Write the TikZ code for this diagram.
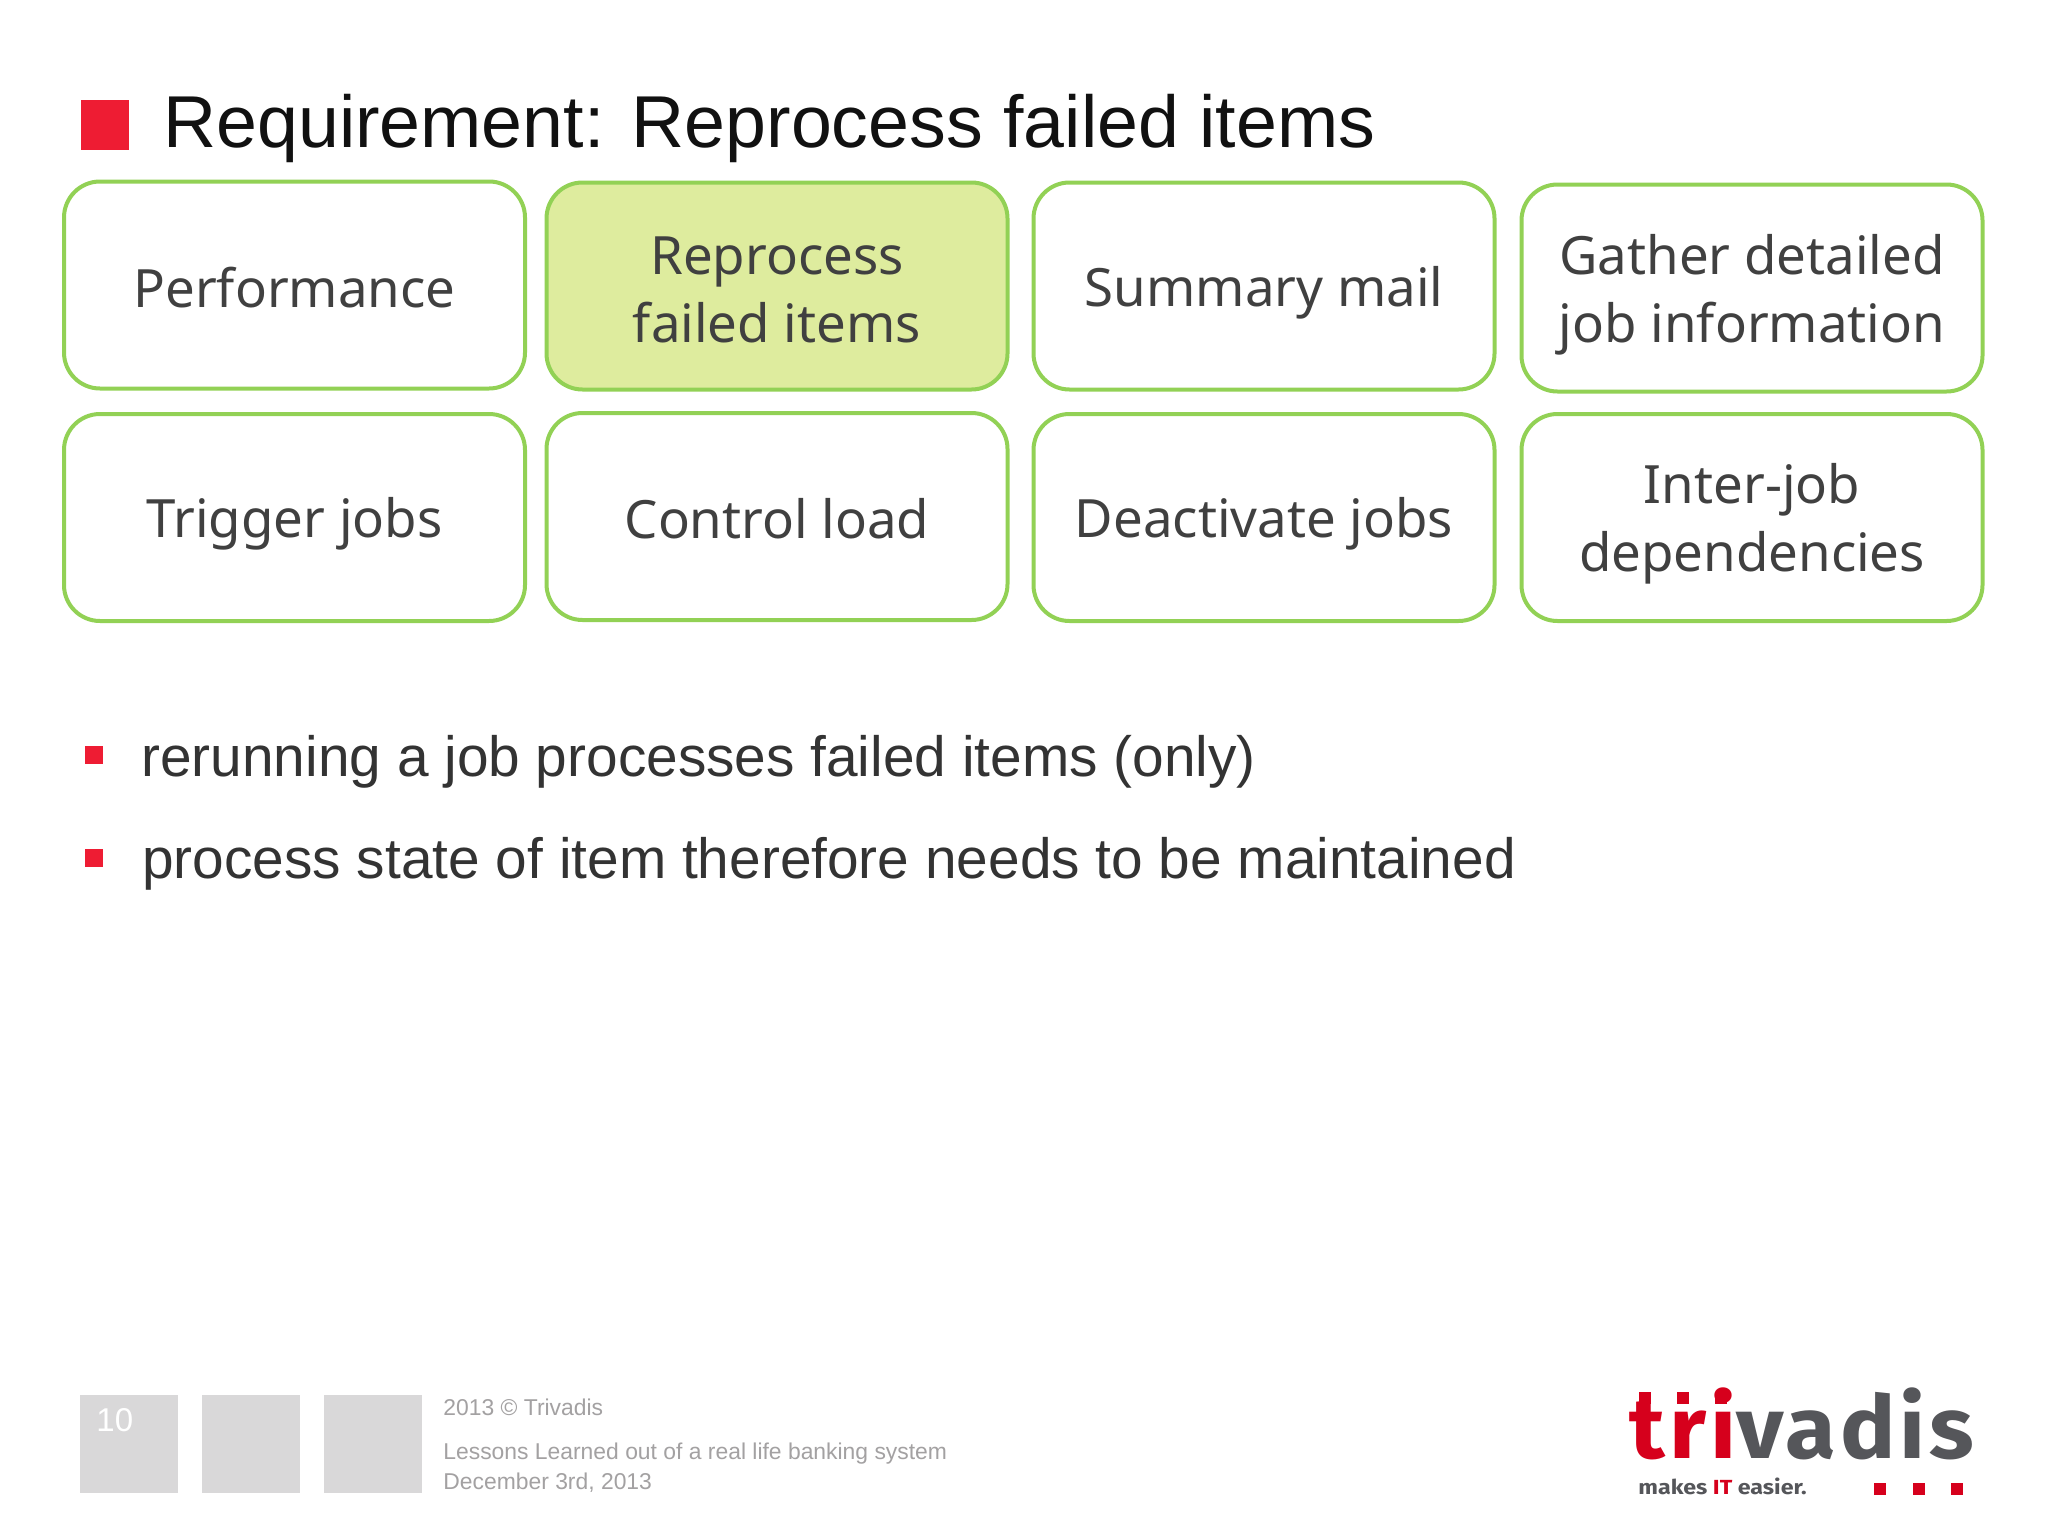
\documentclass[tikz,border=0pt]{standalone}
\usepackage{fontspec}
\setmainfont{Liberation Sans}
\newfontfamily\boxfont{Noto Sans}
\newfontfamily\logofont[FakeStretch=1.06,LetterSpace=4.6]{Fira Sans}
\newfontfamily\tagfont[FakeStretch=1.14]{Fira Sans}
\definecolor{brandred}{HTML}{EE1C33}
\definecolor{boxgreen}{HTML}{92D155}
\definecolor{boxfill}{HTML}{DEEC9E}
\definecolor{ink}{HTML}{333333}
\definecolor{boxink}{HTML}{404040}
\definecolor{titleink}{HTML}{111111}
\definecolor{foot}{HTML}{D9D8D9}
\definecolor{foottext}{HTML}{A3A1A2}
\definecolor{logored}{HTML}{D6001C}
\definecolor{logogrey}{HTML}{55565A}
\newcommand{\bs}{\rule[-3pt]{0pt}{28pt}}
\newcommand{\bsl}{\rule[-1.6pt]{0pt}{28pt}}
\tikzset{
  reqbox/.style={draw=boxgreen,line width=2pt,rounded corners=18pt,minimum width=230.5pt,minimum height=103.5pt,inner sep=0pt,align=center,text=boxink,font=\boxfont\fontsize{26.4}{34}\selectfont},
  hilite/.style={reqbox,fill=boxfill},
  titletext/.style={anchor=base west,inner sep=0pt,text=titleink,font=\fontsize{36.75}{40}\selectfont},
  bullettext/.style={anchor=base west,inner sep=0pt,text=ink,font=\fontsize{28.4}{32}\selectfont},
  foottxt/.style={anchor=base west,inner sep=0pt,text=foottext,font=\fontsize{11.44}{14}\selectfont},
  footbox/.style={fill=foot,draw=none,minimum width=48.75pt,minimum height=49pt,inner sep=0pt},
  logotext/.style={anchor=base west,inner sep=0pt,font=\logofont\bfseries\fontsize{43.6}{44}\selectfont},
  taglinetext/.style={anchor=base west,inner sep=0pt,text=logogrey,font=\tagfont\bfseries\fontsize{10.2}{14}\selectfont},
  sq/.style={fill=logored,draw=none,minimum size=6pt,inner sep=0pt},
  bulletsq/.style={fill=brandred,draw=none,minimum size=9pt,inner sep=0pt}
}
\begin{document}
\begin{tikzpicture}[x=0.5pt,y=-0.5pt]
\useasboundingbox[fill=white] (0,0) rectangle (2048,1536);
% title
\fill[brandred] (81,100) rectangle (129,150);
\node[titletext] (title) at (163,148) {Requirement: Reprocess failed items};
% boxes
\node[reqbox] (b1) at (294.5,285) {\bs Performance};
\node[hilite] (b2) at (777,286) {\bs Reprocess\\\bs failed items};
\node[reqbox] (b3) at (1264,286) {\bsl Summary mail};
\node[reqbox] (b4) at (1752,288) {\bsl Gather detailed\\\bsl job information};
\node[reqbox] (b5) at (294.5,517.5) {\bsl Trigger jobs};
\node[reqbox] (b6) at (777,516.5) {\bs Control load};
\node[reqbox] (b7) at (1264,517.5) {\bsl Deactivate jobs};
\node[reqbox] (b8) at (1752,517.5) {\bsl Inter-job\\\bsl dependencies};
% bullets
\node[bulletsq] (s1) at (94,755) {};
\node[bullettext] (t1) at (141,776) {rerunning a job processes failed items (only)};
\node[bulletsq] (s2) at (94,858) {};
\node[bullettext] (t2) at (142,878) {process state of item therefore needs to be maintained};
% footer
\node[footbox] (f1) at (129,1444) {};
\node[footbox] (f2) at (251,1444) {};
\node[footbox] (f3) at (373,1444) {};
\node[anchor=base west,inner sep=0pt,text=white,font=\fontsize{16.5}{20}\selectfont] (num) at (96,1431) {10};
\node[foottxt] (c1) at (443,1415) {2013 © Trivadis};
\node[foottxt] (c2) at (443,1459) {Lessons Learned out of a real life banking system};
\node[foottxt] (c3) at (443,1489) {December 3rd, 2013};
% logo
\node[logotext] (logo) at (1629,1458) {\textcolor{logored}{tri}\textcolor{logogrey}{vadis}};
\node[sq] (d1) at (1645,1397.5) {};
\node[sq] (d2) at (1683,1397.5) {};
\node[sq] (d3) at (1721,1397.5) {};
\node[taglinetext] (tag) at (1638,1494) {makes \textcolor{logored}{IT} easier.};
\node[sq] (e1) at (1880,1488.5) {};
\node[sq] (e2) at (1919,1488.5) {};
\node[sq] (e3) at (1957,1488.5) {};
\end{tikzpicture}
\end{document}
